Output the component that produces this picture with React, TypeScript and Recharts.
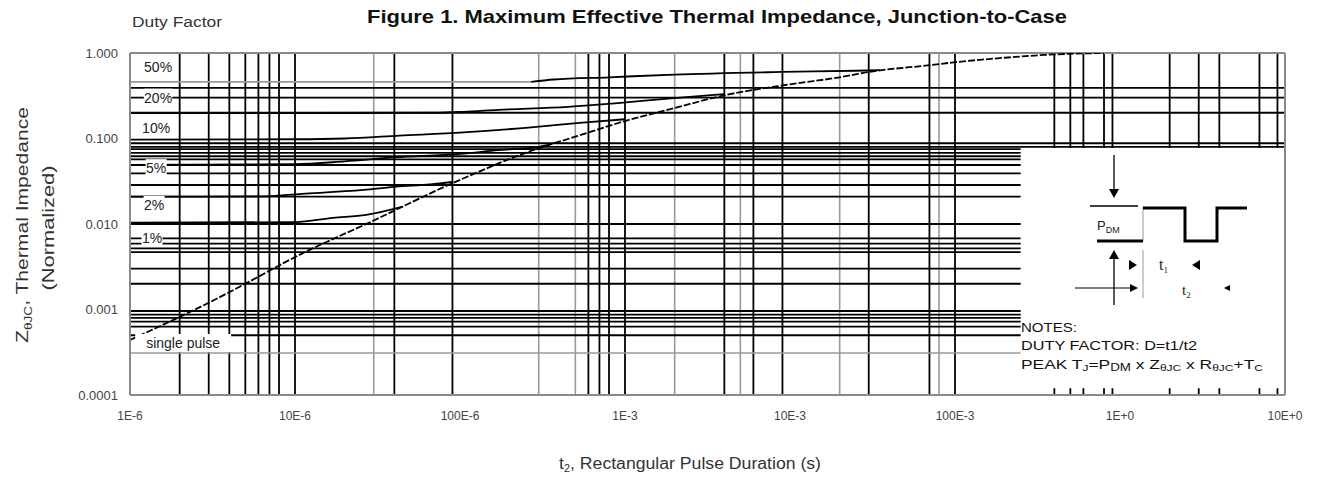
import React from 'react';
import { LineChart, Line, XAxis, YAxis, ReferenceLine, ReferenceDot } from 'recharts';

const FONT = '"Liberation Sans", Arial, sans-serif';

const xTicks = [1e-6, 1e-5, 1e-4, 1e-3, 1e-2, 1e-1, 1, 10];
const xTickLabels = ['1E-6', '10E-6', '100E-6', '1E-3', '10E-3', '100E-3', '1E+0', '10E+0'];
const yTicks = [0.0001, 0.001, 0.01, 0.1, 1];
const yTickLabels = ['0.0001', '0.001', '0.010', '0.100', '1.000'];

// [t (s), Z normalized]
const singlePulse = [
  [1e-6, 4.4e-4], [2e-6, 8.2e-4], [3e-6, 1.2e-3], [5e-6, 2.0e-3], [1e-5, 4.1e-3],
  [3e-5, 0.011], [9e-5, 0.03], [3e-4, 0.077], [5e-4, 0.105], [1e-3, 0.16],
  [2e-3, 0.227], [4e-3, 0.32], [1e-2, 0.43], [2e-2, 0.52], [3e-2, 0.6],
  [7e-2, 0.72], [0.1, 0.78], [0.2, 0.88], [0.35, 0.95], [0.8, 1.0],
];
const duty1 = [
  [1e-6, 0.0104], [1e-5, 0.0105], [1.7e-5, 0.0118], [2.7e-5, 0.0128], [4.5e-5, 0.016],
];
const duty2 = [
  [1e-6, 0.0209], [6e-6, 0.021], [1.1e-5, 0.0225], [2.6e-5, 0.025], [4.1e-5, 0.0273],
  [6.6e-5, 0.029], [9e-5, 0.031],
];
const duty5 = [
  [1e-6, 0.049], [1e-5, 0.05], [2e-5, 0.054], [4e-5, 0.06], [1e-4, 0.066],
  [1.7e-4, 0.073], [3e-4, 0.08], [3.5e-4, 0.085],
];
const duty10 = [
  [1e-6, 0.097], [1e-5, 0.098], [2e-5, 0.1], [4.3e-5, 0.108], [1.05e-4, 0.118],
  [2.7e-4, 0.135], [5.3e-4, 0.152], [1e-3, 0.168],
];
const duty20 = [
  [1e-6, 0.198], [7e-5, 0.2], [1.05e-4, 0.205], [1.7e-4, 0.216], [4.5e-4, 0.235],
  [8.7e-4, 0.258], [1.9e-3, 0.295], [4e-3, 0.33],
];
const duty50Flat = [[1e-6, 0.46], [2.7e-4, 0.46]];
const duty50 = [
  [2.7e-4, 0.46], [3.7e-4, 0.49], [8e-4, 0.52], [2e-3, 0.56], [9e-3, 0.6],
  [2.5e-2, 0.62], [3.5e-2, 0.63],
];

// printed grid of the original sheet
const gridXBlack = [2e-6, 3e-6, 4e-6, 5e-6, 6e-6, 7e-6, 8e-6, 1e-5, 4e-5, 9e-5, 6e-4, 7e-4, 8e-4, 1e-3, 4e-3, 6e-3, 9e-3, 3e-2, 7e-2, 1e-1];
const gridXGray = [3e-5, 3e-4, 5e-4, 2e-3, 5e-3, 2e-2, 8e-2];
const gridXRight = [0.4, 0.5, 0.6, 0.8, 0.9, 2, 3, 4, 7, 9];
const gridYFull = [0.39, 0.3, 0.2, 0.088, 0.08];
const gridYLeft = [0.075, 0.068, 0.062, 0.057, 0.049, 0.039, 0.0286, 0.0209, 0.01, 0.0068, 0.0059, 0.0052, 0.0047, 0.003, 0.002, 0.00096, 0.00087, 0.0008, 0.00072, 0.00063, 0.0005];
const gridYGray = [0.00031];
const insetT = 0.25;
const insetZ = 0.0775;

const curveLabels = [
  { text: '50%', t: 1.48e-6, z: 0.686 },
  { text: '20%', t: 1.48e-6, z: 0.3 },
  { text: '10%', t: 1.44e-6, z: 0.133 },
  { text: '5%', t: 1.44e-6, z: 0.045 },
  { text: '2%', t: 1.4e-6, z: 0.0167 },
  { text: '1%', t: 1.36e-6, z: 0.00686 },
  { text: 'single pulse', t: 2.1e-6, z: 4.06e-4 },
];

const pts = (a: number[][]) => a.map(([t, z]) => ({ t, z }));

const fmt = (ticks: number[], labels: string[]) => (v: number) => {
  const i = ticks.findIndex((t) => Math.abs(Math.log10(t) - Math.log10(v)) < 0.01);
  return i >= 0 ? labels[i] : '';
};

const LabelBox = (text: string) => (p: any) => {
  const w = text.length * 7.5 + 6;
  return (
    <g>
      <rect x={p.cx - w / 2} y={p.cy - 9} width={w} height={18} fill="#fff" />
      <text x={p.cx} y={p.cy + 5} textAnchor="middle" fontSize={14} fill="#222" fontFamily={FONT}>
        {text}
      </text>
    </g>
  );
};

const Overlay = () => (
  <svg width={1310} height={466} style={{ position: 'absolute', left: 0, top: 0, pointerEvents: 'none', overflow: 'visible' }} fontFamily={FONT}>
    <text x={709} y={15} textAnchor="middle" fontSize={19} fontWeight="bold" fill="#111" textLength={700} lengthAdjust="spacingAndGlyphs">
      Figure 1. Maximum Effective Thermal Impedance, Junction-to-Case
    </text>
    <text x={124} y={19} fontSize={14} fill="#333" textLength={90} lengthAdjust="spacingAndGlyphs">Duty Factor</text>
    <text transform="translate(20,217) rotate(-90)" textAnchor="middle" fontSize={17} fill="#333" textLength={236} lengthAdjust="spacingAndGlyphs">
      Z<tspan fontSize={11} dy={4}>θJC</tspan><tspan dy={-4}>, Thermal Impedance</tspan>
    </text>
    <text transform="translate(46,220) rotate(-90)" textAnchor="middle" fontSize={17} fill="#333" textLength={125} lengthAdjust="spacingAndGlyphs">(Normalized)</text>
    <text x={682} y={461} textAnchor="middle" fontSize={16} fill="#333" textLength={262} lengthAdjust="spacingAndGlyphs">
      t<tspan fontSize={10} dy={3}>2</tspan><tspan dy={-3}>, Rectangular Pulse Duration (s)</tspan>
    </text>

    {/* pulse sketch in the inset */}
    <g stroke="#000" fill="none">
      <line x1={1106} y1={147} x2={1106} y2={183} strokeWidth={1.3} />
      <polygon points="1101,181 1111,181 1106,190" fill="#000" stroke="none" />
      <line x1={1082} y1={198} x2={1130} y2={198} strokeWidth={1.3} />
      <line x1={1135} y1={199} x2={1135} y2={233} stroke="#999" strokeWidth={1} />
      <polyline points="1089,233 1135,233" strokeWidth={3} />
      <polyline points="1135,200 1177,200 1177,233 1209,233 1209,200 1239,200" strokeWidth={3} />
      <line x1={1106} y1={250} x2={1106} y2={297} strokeWidth={1.3} />
      <polygon points="1101,251 1111,251 1106,242" fill="#000" stroke="none" />
      <line x1={1135} y1={242} x2={1135} y2={290} stroke="#999" strokeWidth={1} />
      <polygon points="1121,252 1129,257 1121,262" fill="#000" stroke="none" />
      <polygon points="1192,252 1184,257 1192,262" fill="#000" stroke="none" />
      <line x1={1067} y1={280} x2={1124} y2={280} strokeWidth={1.2} />
      <polygon points="1122,276 1130,280 1122,284" fill="#000" stroke="none" />
      <polygon points="1222,277 1216,280 1222,283" fill="#000" stroke="none" />
    </g>
    <text x={1089} y={222} fontSize={13} fill="#222">P<tspan fontSize={9} dy={3}>DM</tspan></text>
    <text x={1151} y={262} fontSize={16} fill="#222" fontFamily="'Liberation Serif', serif">t<tspan fontSize={9} dy={3}>1</tspan></text>
    <text x={1174} y={287} fontSize={15} fill="#222" fontFamily="'Liberation Serif', serif">t<tspan fontSize={9} dy={3}>2</tspan></text>
    <g fontSize={13} fill="#111">
      <text x={1013} y={324} textLength={56} lengthAdjust="spacingAndGlyphs">NOTES:</text>
      <text x={1013} y={342} textLength={176} lengthAdjust="spacingAndGlyphs">DUTY FACTOR: D=t1/t2</text>
      <text x={1013} y={361} textLength={242} lengthAdjust="spacingAndGlyphs">
        PEAK T<tspan fontSize={9} dy={2}>J</tspan><tspan dy={-2}>=P</tspan><tspan fontSize={10} dy={2}>DM</tspan>
        <tspan dy={-2}> x Z</tspan><tspan fontSize={9} dy={2}>θJC</tspan><tspan dy={-2}> x R</tspan>
        <tspan fontSize={9} dy={2}>θJC</tspan><tspan dy={-2}>+T</tspan><tspan fontSize={9} dy={2}>C</tspan>
      </text>
    </g>
  </svg>
);

export default function App() {
  const black = '#000';
  const gray = '#9a9a9a';
  const border = '#8a8a8a';
  return (
    <div style={{ position: 'relative', width: 1310, height: 466, fontFamily: FONT, background: '#fff' }}>
      <LineChart width={1310} height={466} margin={{ top: 45, right: 33, left: 0, bottom: 0 }}>
        <XAxis
          dataKey="t"
          type="number"
          scale="log"
          domain={[1e-6, 10]}
          allowDataOverflow
          ticks={xTicks}
          interval={0}
          tickFormatter={fmt(xTicks, xTickLabels)}
          height={79}
          axisLine={{ stroke: border, strokeWidth: 2 }}
          tickLine={false}
          tickMargin={10}
          tick={{ fontSize: 12, fill: '#444', fontFamily: FONT }}
        />
        <YAxis
          type="number"
          scale="log"
          domain={[1e-4, 1]}
          allowDataOverflow
          ticks={yTicks}
          interval={0}
          tickFormatter={fmt(yTicks, yTickLabels)}
          width={122}
          axisLine={{ stroke: border, strokeWidth: 2 }}
          tickLine={false}
          tickMargin={6}
          tick={{ fontSize: 13, fill: '#444', fontFamily: FONT }}
        />

        {gridXGray.map((v) => <ReferenceLine key={'xg' + v} x={v} stroke={gray} strokeWidth={1.6} />)}
        {gridXBlack.map((v) => <ReferenceLine key={'xb' + v} x={v} stroke={black} strokeWidth={1.8} />)}
        {gridXRight.map((v) => (
          <ReferenceLine key={'xr' + v} segment={[{ x: v, y: insetZ }, { x: v, y: 1 }]} stroke={black} strokeWidth={1.8} />
        ))}
        {gridXRight.map((v) => (
          <ReferenceLine key={'xt' + v} segment={[{ x: v, y: 1e-4 }, { x: v, y: 1.2e-4 }]} stroke={black} strokeWidth={1.8} />
        ))}
        {gridYFull.map((v) => <ReferenceLine key={'yf' + v} y={v} stroke={black} strokeWidth={1.8} />)}
        {gridYLeft.map((v) => (
          <ReferenceLine key={'yl' + v} segment={[{ x: 1e-6, y: v }, { x: insetT, y: v }]} stroke={black} strokeWidth={1.8} />
        ))}
        {gridYGray.map((v) => (
          <ReferenceLine key={'yg' + v} segment={[{ x: 1e-6, y: v }, { x: insetT, y: v }]} stroke={gray} strokeWidth={1.6} />
        ))}
        <ReferenceLine y={1} stroke={border} strokeWidth={2} />
        <ReferenceLine x={10} stroke={border} strokeWidth={2} />

        <Line data={pts(duty50Flat)} dataKey="z" type="linear" stroke={gray} strokeWidth={1.6} dot={false} isAnimationActive={false} />
        <Line data={pts(duty50)} dataKey="z" type="monotone" stroke={black} strokeWidth={1.8} dot={false} isAnimationActive={false} />
        <Line data={pts(duty20)} dataKey="z" type="monotone" stroke={black} strokeWidth={1.8} dot={false} isAnimationActive={false} />
        <Line data={pts(duty10)} dataKey="z" type="monotone" stroke={black} strokeWidth={1.8} dot={false} isAnimationActive={false} />
        <Line data={pts(duty5)} dataKey="z" type="monotone" stroke={black} strokeWidth={1.8} dot={false} isAnimationActive={false} />
        <Line data={pts(duty2)} dataKey="z" type="monotone" stroke={black} strokeWidth={1.8} dot={false} isAnimationActive={false} />
        <Line data={pts(duty1)} dataKey="z" type="monotone" stroke={black} strokeWidth={1.8} dot={false} isAnimationActive={false} />
        <Line data={pts(singlePulse)} dataKey="z" type="monotone" stroke={black} strokeWidth={1.8} strokeDasharray="7 2" dot={false} isAnimationActive={false} />

        {curveLabels.map((l) => (
          <ReferenceDot key={l.text} x={l.t} y={l.z} r={0} shape={LabelBox(l.text)} />
        ))}
      </LineChart>
      <Overlay />
    </div>
  );
}
